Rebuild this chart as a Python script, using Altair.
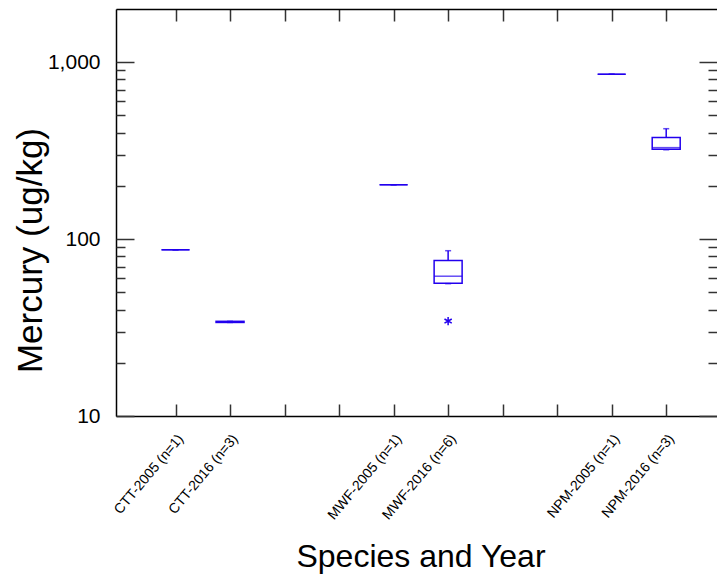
import altair as alt
import pandas as pd

# ---- data ----
groups = ["CTT-2005 (n=1)", "CTT-2016 (n=3)", "MWF-2005 (n=1)",
          "MWF-2016 (n=6)", "NPM-2005 (n=1)", "NPM-2016 (n=3)"]
positions = [1, 2, 5, 6, 9, 10]
whisker_low = [87, 33.8, 203, 56.0, 855, 320]
q1 = [87, 33.8, 203, 56.3, 855, 322]
median = [87, 34.0, 203, 61.7, 855, 329]
q3 = [87, 34.3, 203, 75.8, 855, 375]
whisker_high = [87, 34.3, 203, 86.0, 855, 421]
outlier_group = ["MWF-2016 (n=6)"]
outlier_value = [34.4]

y_major = [10, 100, 1000]
y_minor = [20, 30, 40, 50, 60, 70, 80, 90, 200, 300, 400, 500, 600, 700, 800, 900]
x_ticks = list(range(1, 11))

# ---- styling ----
W, H = 601, 407
X_MAX = 10.84          # the frame runs past the window on the right
BLUE = "#2200ee"
FONT = "Liberation Sans"
TICK = "#333333"

df = pd.DataFrame({"group": groups, "pos": positions, "lo": whisker_low,
                   "q1": q1, "med": median, "q3": q3, "hi": whisker_high})
pos_of = dict(zip(groups, positions))
df_out = pd.DataFrame({"group": outlier_group,
                       "pos": [pos_of[g] for g in outlier_group],
                       "value": outlier_value})

xscale = alt.Scale(domain=[0, X_MAX], nice=False, zero=False)
yscale = alt.Scale(type="log", domain=[10, 2000], nice=False)

label_expr = " : ".join(f"datum.value == {p} ? '{g}'" for p, g in zip(positions, groups)) + " : ''"
major_test = "indexof([" + ",".join(str(v) for v in y_major) + "], datum.value) >= 0"
ytick_size = {"condition": {"test": major_test, "value": 18}, "value": 9}

x_label_axis = alt.Axis(
    orient="bottom", values=positions, labelExpr=label_expr, ticks=False, tickSize=0,
    labelAngle=310, labelAlign="right", labelBaseline="middle", labelFont=FONT,
    labelFontSize=14, labelColor="black", labelPadding=20, labelOffset=5,
    labelOverlap=False, domain=True, domainColor="black", domainWidth=1.5, grid=False,
    title="Species and Year", titleFont=FONT, titleFontSize=32, titleFontWeight="normal",
    titleColor="black", titleX=304.5, titleY=150, titleAlign="center",
    titleBaseline="alphabetic")
x_top_inward = alt.Axis(
    orient="bottom", offset=-H, values=x_ticks, labels=False, tickSize=12,
    tickColor=TICK, tickWidth=1.5, domain=True, domainColor="black", domainWidth=1.5,
    grid=False, title=None)
x_bottom_inward = alt.Axis(
    orient="top", offset=-H, values=x_ticks, labels=False, tickSize=12,
    tickColor=TICK, tickWidth=1.5, domain=False, grid=False, title=None)

y_label_axis = alt.Axis(
    orient="left", values=y_major, format=",", ticks=False, tickSize=0,
    labelFont=FONT, labelFontSize=21, labelColor="black", labelPadding=16,
    domain=True, domainColor="black", domainWidth=1.5, grid=False,
    title="Mercury (ug/kg)", titleFont=FONT, titleFontSize=35, titleFontWeight="normal",
    titleColor="black", titleX=-86, titleY=241, titleAngle=270, titleAlign="center",
    titleBaseline="middle")
y_left_inward = alt.Axis(
    orient="right", offset=-W, values=y_major + y_minor, labels=False,
    tickSize=ytick_size, tickColor=TICK, tickWidth=1.5, domain=False, grid=False, title=None)
y_right_inward = alt.Axis(
    orient="left", offset=-W, values=y_major + y_minor, labels=False,
    tickSize=ytick_size, tickColor=TICK, tickWidth=1.5, domain=False, grid=False, title=None)

base = alt.Chart(df)

boxes = base.mark_bar(width=28, fill="white", stroke=BLUE, strokeWidth=1.5).encode(
    x=alt.X("pos:Q", scale=xscale, axis=x_label_axis),
    y=alt.Y("q1:Q", scale=yscale, axis=y_label_axis),
    y2="q3:Q")

meds = base.mark_tick(orient="horizontal", size=28, thickness=1.5, color=BLUE).encode(
    x=alt.X("pos:Q", scale=xscale, axis=x_top_inward),
    y=alt.Y("med:Q", scale=yscale, axis=y_left_inward))

upper = base.mark_rule(color=BLUE, strokeWidth=1.5).encode(
    x=alt.X("pos:Q", scale=xscale, axis=x_bottom_inward),
    y=alt.Y("q3:Q", scale=yscale, axis=y_right_inward),
    y2="hi:Q")

lower = base.mark_rule(color=BLUE, strokeWidth=1.5).encode(
    x=alt.X("pos:Q", scale=xscale, axis=None),
    y=alt.Y("lo:Q", scale=yscale, axis=None),
    y2="q1:Q")

cap_hi = base.mark_tick(orient="horizontal", size=6, thickness=1.5, color=BLUE).encode(
    x=alt.X("pos:Q", scale=xscale, axis=None),
    y=alt.Y("hi:Q", scale=yscale, axis=None))

cap_lo = base.mark_tick(orient="horizontal", size=6, thickness=1.5, color=BLUE).encode(
    x=alt.X("pos:Q", scale=xscale, axis=None),
    y=alt.Y("lo:Q", scale=yscale, axis=None))

outliers = alt.Chart(df_out).mark_point(
    shape="M0,-1L0,1M-0.87,-0.5L0.87,0.5M-0.87,0.5L0.87,-0.5",
    size=70, filled=False, stroke=BLUE, strokeWidth=1.5, opacity=1).encode(
    x=alt.X("pos:Q", scale=xscale, axis=None),
    y=alt.Y("value:Q", scale=yscale, axis=None))

chart = alt.layer(boxes, meds, upper, lower, cap_hi, cap_lo, outliers).resolve_axis(
    x="independent", y="independent"
).properties(
    width=W, height=H,
    autosize=alt.AutoSizeParams(type="none"),
    padding={"left": 108, "top": 1, "right": 0, "bottom": 158},
).configure_view(stroke=None).configure(background="white")

chart.save("out.html", embed_options={"renderer": "svg", "actions": False})
